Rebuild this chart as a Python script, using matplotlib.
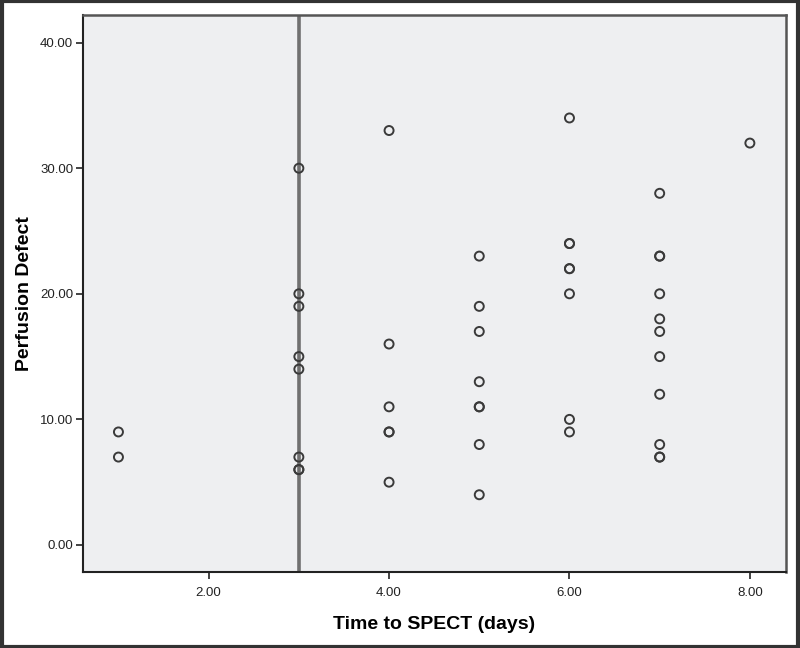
import matplotlib
matplotlib.use("Agg")
import matplotlib.pyplot as plt
from matplotlib.patches import Rectangle

# Data (time to SPECT in days, perfusion defect)
time_days = [1, 1,
             3, 3, 3, 3, 3, 3, 3, 3,
             4, 4, 4, 4, 4, 4,
             5, 5, 5, 5, 5, 5, 5, 5,
             6, 6, 6, 6, 6, 6, 6, 6,
             7, 7, 7, 7, 7, 7, 7, 7, 7, 7, 7,
             8]
perfusion = [9, 7,
             30, 20, 19, 15, 14, 7, 6, 6,
             33, 16, 11, 9, 9, 5,
             23, 19, 17, 13, 11, 11, 8, 4,
             34, 24, 24, 22, 22, 20, 10, 9,
             28, 23, 23, 20, 18, 17, 15, 12, 8, 7, 7,
             32]
x_ticks = [2, 4, 6, 8]
y_ticks = [0, 10, 20, 30, 40]
ref_x = 3

plt.rcParams['font.family'] = ['Liberation Sans', 'DejaVu Sans']

fig = plt.figure(figsize=(8, 6.48), dpi=100)
ax = fig.add_axes([0.10375, 0.1173, 0.8787, 0.8596])
ax.set_facecolor('#eeeff1')

ax.axvline(ref_x, color='#707070', lw=2.6, zorder=1)
ax.scatter(time_days, perfusion, s=42, facecolors='none', edgecolors='#3a3a3a',
           linewidths=1.4, zorder=3)

ax.set_xlim(0.607, 8.40)
ax.set_ylim(-2.15, 42.2)
ax.set_xticks(x_ticks)
ax.set_xticklabels([f"{v:.2f}" for v in x_ticks])
ax.set_yticks(y_ticks)
ax.set_yticklabels([f"{v:.2f}" for v in y_ticks])
ax.tick_params(axis='both', direction='out', length=5, width=1.2, labelsize=9.5,
               colors='#222222')
ax.tick_params(axis='x', pad=6)
ax.tick_params(axis='y', pad=2)

for s in ['left', 'bottom']:
    ax.spines[s].set_color('#222222')
    ax.spines[s].set_linewidth(1.5)
for s in ['top', 'right']:
    ax.spines[s].set_color('#555555')
    ax.spines[s].set_linewidth(1.8)

ax.set_xlabel('Time to SPECT (days)', fontsize=14, fontweight='bold', labelpad=12)
ax.set_ylabel('Perfusion Defect', fontsize=14, fontweight='bold', labelpad=5)

fig.patches.append(Rectangle((0.002, 0.002), 0.996, 0.996, transform=fig.transFigure,
                             fill=False, edgecolor='#333333', lw=3))

fig.savefig('out.png', dpi=100)
